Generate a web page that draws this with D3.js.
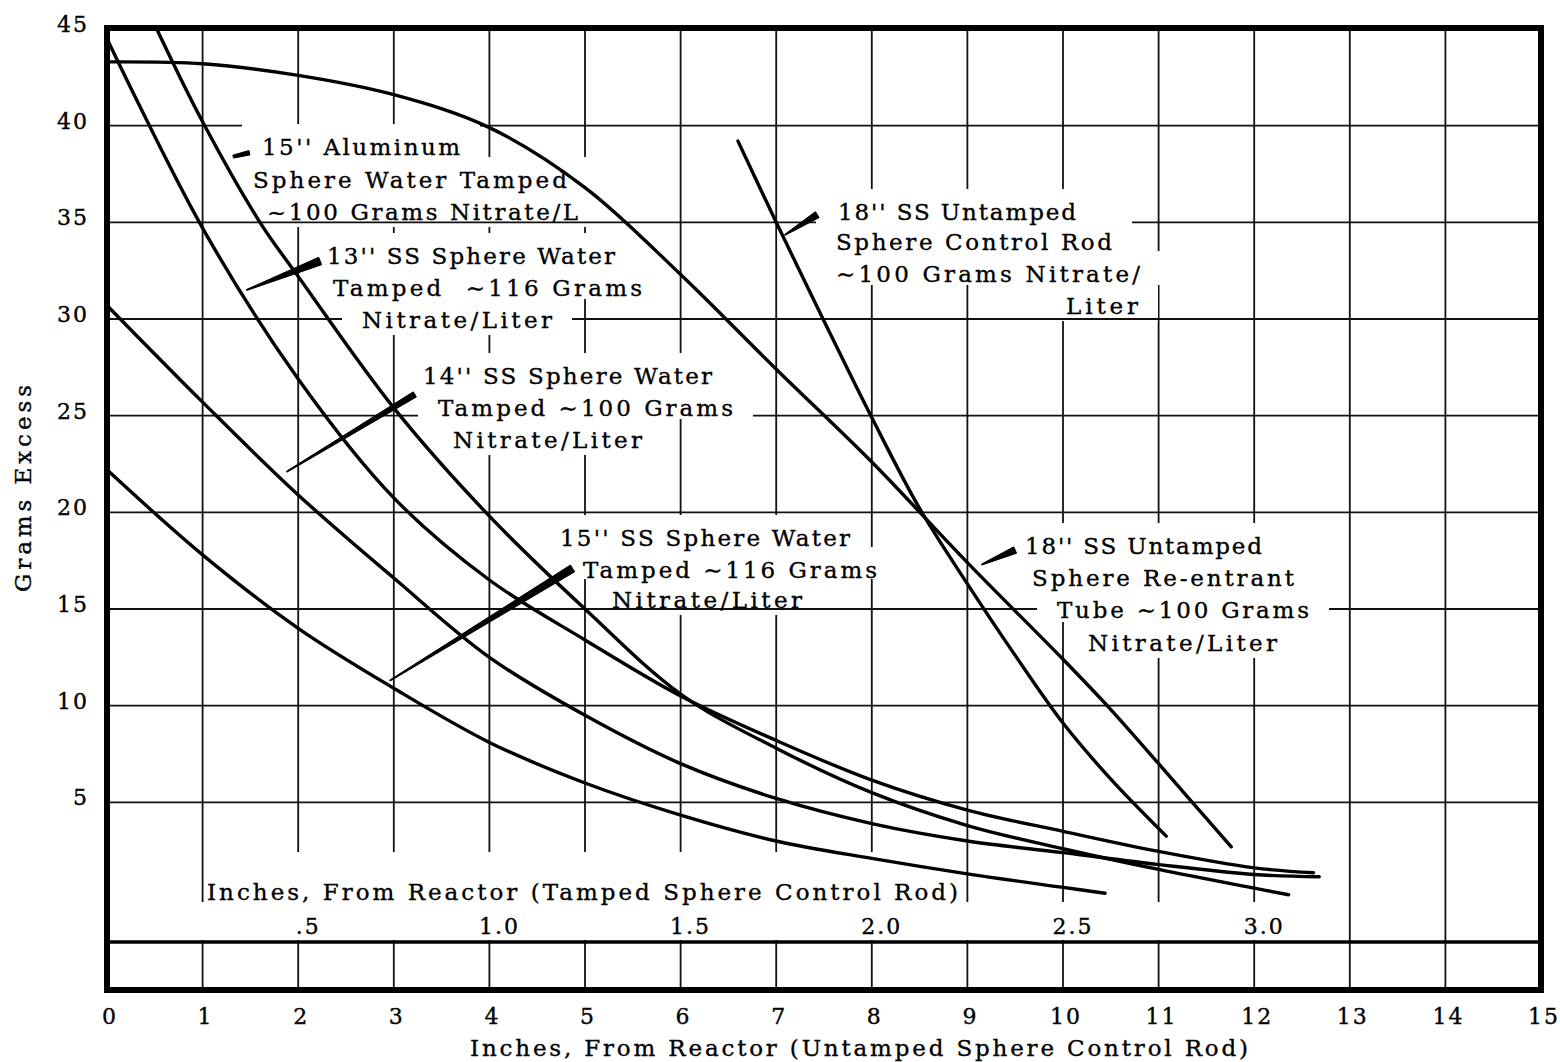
<!DOCTYPE html>
<html><head><meta charset="utf-8">
<script src="https://cdn.jsdelivr.net/npm/d3@7/dist/d3.min.js"></script>
<style>
body{margin:0;background:#fff}
text{font-family:"DejaVu Serif",serif;fill:#000;stroke:#000;stroke-width:0.35px}
</style>
</head><body>
<svg id="c" width="1560" height="1062"></svg>
<script>
// ---------------- DATA ----------------
// bottom axis: inches from reactor, untamped sphere control rod
const untampedTicks = [0,1,2,3,4,5,6,7,8,9,10,11,12,13,14,15];
const untampedTickLabels = ["0","1","2","3","4","5","6","7","8","9","10","11","12","13","14","15"];
// secondary axis: inches from reactor, tamped sphere control rod
const tampedTicks = [0.5,1.0,1.5,2.0,2.5,3.0];
const tampedTickLabels = [".5","1.0","1.5","2.0","2.5","3.0"];
// y axis: grams excess
const gramTicks = [5,10,15,20,25,30,35,40,45];
const gramTickLabels = ["5","10","15","20","25","30","35","40","45"];

// untamped curves  [inches (untamped axis), grams excess]
const ss18ReentrantTube = [[0,43.3],[1,43.2],[2,42.6],[3,41.6],[4,39.9],[5,36.8],[6,32.3],[7,27.4],[8,22.6],[9,17.4],[10,12.4],[10.5,9.8],[11,7.0],[11.3,5.3],[11.76,2.7]];
const ss18ControlRod = [[6.6,39.2],[7,35.0],[7.5,29.9],[8,24.9],[8.5,20.2],[9,16.3],[9.5,12.6],[10,9.1],[10.5,6.2],[11.08,3.25]];

// tamped curves [inches (tamped axis), grams excess]
const al15Tamped = [[0.13,45],[0.25,40.2],[0.4,35],[0.5,32.2],[0.75,25.4],[1.0,19.8],[1.25,15.0],[1.5,10.6],[1.75,7.8],[2.0,5.5],[2.25,3.8],[2.5,2.6],[2.75,1.53],[3.0,0.56],[3.09,0.22]];
const ss13Tamped = [[0,44.5],[0.25,34.7],[0.5,26.9],[0.75,20.75],[1.0,16.5],[1.25,13.4],[1.5,10.5],[1.75,8.2],[2.0,6.15],[2.25,4.6],[2.5,3.5],[2.75,2.46],[3.0,1.61],[3.155,1.36]];
const ss14Tamped = [[0,30.7],[0.25,25.7],[0.5,20.9],[0.75,16.6],[1.0,12.5],[1.25,9.5],[1.5,7.0],[1.75,5.2],[2.0,3.9],[2.25,3.0],[2.5,2.4],[2.75,1.78],[3.0,1.27],[3.17,1.15]];
const ss15Tamped = [[0,22.2],[0.25,17.8],[0.5,14.0],[0.75,10.9],[1.0,8.1],[1.25,6.0],[1.5,4.34],[1.75,3.0],[2.0,2.1],[2.25,1.3],[2.5,0.6],[2.61,0.3]];

// annotation texts
const labelTexts = [
  ["15'' Aluminum","Sphere Water Tamped","~100 Grams Nitrate/L"],
  ["13'' SS Sphere Water","Tamped  \u223C116 Grams","Nitrate/Liter"],
  ["14'' SS Sphere Water","Tamped \u223C100 Grams","Nitrate/Liter"],
  ["15'' SS Sphere Water","Tamped \u223C116 Grams","Nitrate/Liter"],
  ["18'' SS Untamped","Sphere Control Rod","\u223C100 Grams Nitrate/","Liter"],
  ["18'' SS Untamped","Sphere Re-entrant","Tube \u223C100 Grams","Nitrate/Liter"]
];
const yTitle = "Grams Excess";
const xTitle = "Inches, From Reactor (Untamped Sphere Control Rod)";
const xTitleTamped = "Inches, From Reactor (Tamped Sphere Control Rod)";

// ---------------- LAYOUT ----------------
const FL=107, FR=1541, FT=28, FB=990, SEC=942;
const x  = d3.scaleLinear().domain([0,15]).range([FL,FR]);
const xT = d3.scaleLinear().domain([0,3.75]).range([FL,FR]);
const y  = d3.scaleLinear().domain([0,45]).range([899,29]);

// label line layout: [left, right, baseline] in px
const labelLayout = [
  [[262,460,155],[253,567,188],[267,578,220]],
  [[327,615,264],[333,642,296],[362,552,328]],
  [[423,712,384],[438,733,416],[453,642,448]],
  [[560,850,546],[583,877,578],[612,802,608]],
  [[838,1076,220],[836,1112,250],[836,1140,282],[1066,1138,314]],
  [[1025,1262,554],[1032,1294,586],[1057,1309,618],[1088,1277,651]]
];
// leader wedges in data coords (untamped inches, grams): tip, end, tip width, end width
const leaders = [
  [[1.32,38.4],[1.49,38.6],3,4.5],
  [[1.46,31.5],[2.23,33.0],1,8],
  [[1.88,22.1],[3.22,26.1],1,6],
  [[2.96,11.3],[4.87,17.1],1,8],
  [[7.09,34.35],[7.43,35.4],1,7],
  [[9.15,17.3],[9.50,18.05],1,7]
];

const svg = d3.select("#c");
svg.append("rect").attr("width",1560).attr("height",1062).attr("fill","#fff");

function knockouts(g, lastExtra){
  labelLayout.forEach(lines=>lines.forEach((l,j)=>{
    const top = l[2]-31;
    const bottom = j<lines.length-1 ? lines[j+1][2]-29 : l[2]+lastExtra;
    g.append("rect").attr("x",l[0]-20).attr("y",top).attr("width",l[1]-l[0]+40).attr("height",bottom-top);
  }));
}

// vertical grid + its knockouts
const gv = svg.append("g").attr("stroke","#111").attr("stroke-width",1.8);
gv.selectAll("line").data(untampedTicks.filter(v=>v>0&&v<15)).join("line")
  .attr("x1",d=>x(d)).attr("x2",d=>x(d)).attr("y1",FT).attr("y2",FB);
const kv = svg.append("g").attr("fill","#fff");
knockouts(kv, 7);
kv.append("rect").attr("x",206).attr("y",852).attr("width",759).attr("height",88);
kv.append("rect").attr("x",195).attr("y",902).attr("width",1105).attr("height",38);

// horizontal grid + its knockouts
const gh = svg.append("g").attr("stroke","#111").attr("stroke-width",1.8);
gh.selectAll("line").data(gramTicks.filter(v=>v<45)).join("line")
  .attr("x1",FL).attr("x2",FR).attr("y1",d=>y(d)).attr("y2",d=>y(d));
const kh = svg.append("g").attr("fill","#fff");
knockouts(kh, -1);

// secondary axis line & frame
svg.append("line").attr("x1",FL).attr("x2",FR).attr("y1",SEC).attr("y2",SEC)
  .attr("stroke","#000").attr("stroke-width",3.5);
svg.append("rect").attr("x",FL).attr("y",FT).attr("width",FR-FL).attr("height",FB-FT)
  .attr("fill","none").attr("stroke","#000").attr("stroke-width",6);

// tick labels
const tl = svg.append("g").style("font-size","22px").style("letter-spacing","2px");
tl.selectAll("text.y").data(gramTicks).join("text").attr("class","y")
  .attr("x",89).attr("y",d=>y(d)+3).attr("text-anchor","end")
  .text((d,i)=>gramTickLabels[i]);
tl.selectAll("text.x").data(untampedTicks).join("text").attr("class","x")
  .attr("x",d=>x(d)+3).attr("y",1024).attr("text-anchor","middle")
  .text((d,i)=>untampedTickLabels[i]);
tl.selectAll("text.t").data(tampedTicks).join("text").attr("class","t")
  .attr("x",d=>xT(d)+10).attr("y",934).attr("text-anchor","middle")
  .text((d,i)=>tampedTickLabels[i]);

// titles
const tt = svg.append("g").style("font-size","23px");
tt.append("text").attr("x",470).attr("y",1056).attr("textLength",778).attr("lengthAdjust","spacing").text(xTitle);
tt.append("text").attr("x",207).attr("y",900).attr("textLength",751).attr("lengthAdjust","spacing").text(xTitleTamped);
tt.append("text").attr("transform","translate(31,592) rotate(-90)").attr("textLength",207).attr("lengthAdjust","spacing").text(yTitle);

// annotation labels
const lab = svg.append("g").style("font-size","23px");
labelTexts.forEach((lines,i)=>lines.forEach((s,j)=>{
  const l = labelLayout[i][j];
  lab.append("text").attr("x",l[0]).attr("y",l[2]).attr("textLength",l[1]-l[0])
    .attr("lengthAdjust","spacing").attr("xml:space","preserve").text(s);
}));

// curves
const lineU = d3.line().x(d=>x(d[0])).y(d=>y(d[1])).curve(d3.curveCatmullRom.alpha(0.5));
const lineT = d3.line().x(d=>xT(d[0])).y(d=>y(d[1])).curve(d3.curveCatmullRom.alpha(0.5));
const cg = svg.append("g").attr("fill","none").attr("stroke","#000").attr("stroke-width",3.4)
  .attr("stroke-linecap","round").attr("stroke-linejoin","round");
[ss18ReentrantTube, ss18ControlRod].forEach(s=>cg.append("path").attr("d",lineU(s)));
[al15Tamped, ss13Tamped, ss14Tamped, ss15Tamped].forEach(s=>cg.append("path").attr("d",lineT(s)));

// leader wedges
leaders.forEach(([p0,p1,w0,w1])=>{
  const ax=x(p0[0]), ay=y(p0[1]), bx=x(p1[0]), by=y(p1[1]);
  const dx=bx-ax, dy=by-ay, L=Math.hypot(dx,dy), nx=-dy/L, ny=dx/L;
  const pts=[[ax+nx*w0/2,ay+ny*w0/2],[bx+nx*w1/2,by+ny*w1/2],[bx-nx*w1/2,by-ny*w1/2],[ax-nx*w0/2,ay-ny*w0/2]];
  svg.append("path").attr("d","M"+pts.map(p=>p.join(",")).join("L")+"Z").attr("fill","#000")
    .attr("stroke","#000").attr("stroke-width",1).attr("stroke-linejoin","round");
});
</script>
</body></html>
